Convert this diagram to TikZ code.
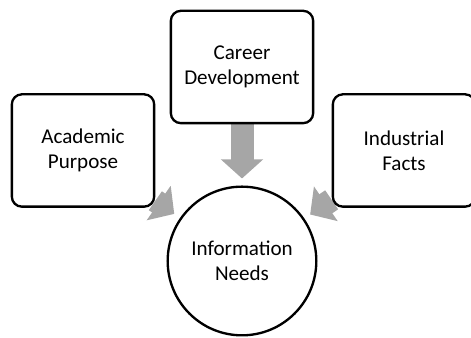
\documentclass[tikz,border=0pt]{standalone}
\usepackage{fontspec}
\setmainfont{Carlito}
\usetikzlibrary{arrows.meta, backgrounds}
\definecolor{feedgray}{RGB}{166,166,166}

\begin{document}
\begin{tikzpicture}[font=\fontsize{18pt}{21.5pt}\selectfont,
    source/.style={draw, line width=2pt, rounded corners=0.3cm, fill=white, align=center,
      minimum width=4.27cm, minimum height=3.37cm},
    feed/.style={feedgray, line width=0.69cm, shorten >=0.21cm,
      -{Triangle[length=0.57cm, width=1.23cm]}}]
  \clip (0,0) rectangle (14.13,10.14);
  \node[source] (academic) at (2.49,5.625) {Academic\\Purpose};
  \node[source] (career) at (7.26,8.13) {Career\\Development};
  \node[source] (industrial) at (12.12,5.625) {Industrial\\Facts};
  \node[draw, circle, line width=2pt, fill=white, align=center, minimum size=4.46cm]
    (needs) at (7.26,2.31) {Information\\Needs};
  % grey block arrows go behind the boxes
  \begin{pgfonlayer}{background}
    \draw[feed] (academic) -- (needs);
    \draw[feed] (career) -- (needs);
    \draw[feed] (industrial) -- (needs);
  \end{pgfonlayer}
\end{tikzpicture}
\end{document}
